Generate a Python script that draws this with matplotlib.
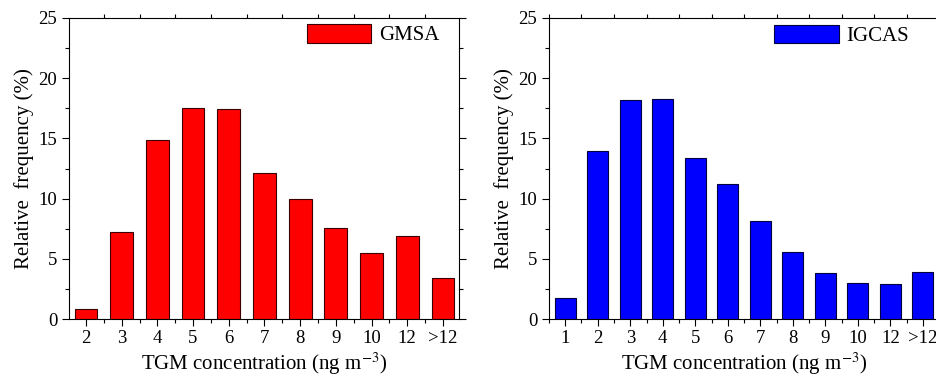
import matplotlib
matplotlib.use("Agg")
import matplotlib.pyplot as plt
from matplotlib.ticker import MultipleLocator, FixedLocator

plt.rcParams['font.family'] = ['Liberation Serif', 'DejaVu Serif']
plt.rcParams['mathtext.fontset'] = 'stix'

gmsa_labels = ["2", "3", "4", "5", "6", "7", "8", "9", "10", "12", ">12"]
gmsa_values = [0.86, 7.22, 14.85, 17.5, 17.4, 12.14, 9.96, 7.58, 5.48, 6.89, 3.40]

igcas_labels = ["1", "2", "3", "4", "5", "6", "7", "8", "9", "10", "12", ">12"]
igcas_values = [1.71, 13.99, 18.17, 18.28, 13.36, 11.2, 8.13, 5.53, 3.82, 2.96, 2.88, 3.90]

fig = plt.figure(figsize=(9.37, 3.77), dpi=100)
ax1 = fig.add_axes([0.0736, 0.1538, 0.4163, 0.7985])
ax2 = fig.add_axes([0.5859, 0.1538, 0.4163, 0.7985])

def draw(ax, labels, values, color, edge, name, xlim, legpos):
    x = list(range(len(labels)))
    ax.bar(x, values, width=0.64, color=color, edgecolor=edge, linewidth=0.8, label=name)
    ax.set_xlim(*xlim)
    ax.set_ylim(0, 25)
    ax.set_xticks(x)
    ax.set_xticklabels(labels, fontsize=13.5)
    ax.xaxis.set_minor_locator(FixedLocator([i + 0.5 for i in range(-1, len(labels))]))
    ax.yaxis.set_major_locator(MultipleLocator(5))
    ax.yaxis.set_minor_locator(MultipleLocator(2.5))
    ax.tick_params(axis='both', which='major', direction='out', length=5, width=0.8,
                   top=True, right=True, labelsize=13.5)
    ax.tick_params(axis='both', which='minor', direction='out', length=3, width=0.8,
                   top=True, right=True)
    ax.tick_params(axis='x', which='major', top=False, pad=3)
    ax.set_ylabel("Relative  frequency (%)", fontsize=15, labelpad=3)
    ax.set_xlabel("TGM concentration (ng m$^{-3}$)", fontsize=15, labelpad=2.5)
    for s in ax.spines.values():
        s.set_linewidth(0.8)
    ax.legend(loc='upper left', frameon=False, fontsize=15, handlelength=3.1,
              handleheight=1.0, handletextpad=0.35, borderaxespad=0.0, borderpad=0.0,
              bbox_to_anchor=legpos)

draw(ax1, gmsa_labels, gmsa_values, '#ff0000', '#3a0000', 'GMSA', (-0.476, 10.45), (0.610, 0.980))
draw(ax2, igcas_labels, igcas_values, '#0000ff', '#00003a', 'IGCAS', (-0.5, 11.5), (0.577, 0.978))

fig.savefig("out.png", dpi=100)
